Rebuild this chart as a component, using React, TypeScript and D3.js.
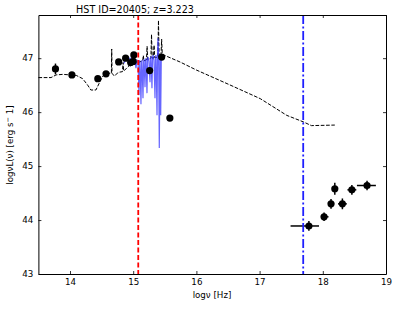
import React, { useEffect, useRef } from 'react';
import * as d3 from 'd3';

// photometry (log nu, log nuLnu, err)
const photNu = [13.77, 14.03, 14.44, 14.57, 14.77, 14.88, 14.96, 15.0, 15.01, 15.26, 15.45, 15.58];
const photL = [46.8, 46.69, 46.62, 46.71, 46.93, 47.0, 46.92, 46.94, 47.06, 46.77, 47.02, 45.89];
const photErr = [0.1, 0.03, 0.03, 0.03, 0.03, 0.03, 0.03, 0.03, 0.03, 0.03, 0.03, 0.03];

// x-ray points
const xrayNu = [17.78, 18.02, 18.13, 18.19, 18.31, 18.46, 18.7];
const xrayL = [43.89, 44.06, 44.3, 44.58, 44.3, 44.56, 44.64];
const xrayNuLo = [17.49, 17.97, 18.09, 18.16, 18.24, 18.39, 18.54];
const xrayNuHi = [17.94, 18.09, 18.18, 18.23, 18.38, 18.53, 18.84];
const xrayErr = [0.09, 0.08, 0.09, 0.11, 0.1, 0.09, 0.09];

// SED model (dashed)
const modelNu = [13.5, 13.7, 13.78, 13.89, 14.1, 14.2, 14.28, 14.33, 14.41, 14.46, 14.52, 14.6, 14.655, 14.66, 14.665,
  14.7, 14.75, 14.78, 14.83, 14.84, 14.85, 14.9, 14.93, 14.94, 14.95, 15.0, 15.05, 15.1, 15.15, 15.16, 15.17, 15.21,
  15.22, 15.23, 15.28, 15.29, 15.3, 15.32, 15.33, 15.34, 15.39, 15.4, 15.41, 15.44, 15.45, 15.46, 15.74, 16.0, 16.5,
  17.01, 17.2, 17.43, 17.69, 17.82, 18.19];
const modelL = [46.64, 46.64, 46.69, 46.7, 46.68, 46.62, 46.5, 46.41, 46.41, 46.53, 46.67, 46.72, 46.72, 47.17, 46.72,
  46.67, 46.72, 46.74, 46.75, 46.92, 46.76, 46.82, 46.85, 46.95, 46.85, 46.9, 46.92, 46.93, 46.95, 47.05, 46.95, 46.97,
  47.22, 46.97, 47.0, 47.44, 47.0, 47.0, 47.24, 47.01, 47.02, 47.7, 47.03, 47.04, 47.35, 47.07, 46.93, 46.78, 46.52,
  46.25, 46.11, 45.94, 45.82, 45.75, 45.76];

// spectrum (blue)
const specNu = [14.854, 14.886, 14.918, 14.949, 14.981, 15.013, 15.028, 15.044, 15.06, 15.076, 15.092, 15.101, 15.108,
  15.123, 15.133, 15.139, 15.155, 15.165, 15.171, 15.187, 15.196, 15.203, 15.218, 15.228, 15.234, 15.25, 15.266, 15.275,
  15.282, 15.297, 15.307, 15.313, 15.329, 15.345, 15.354, 15.361, 15.377, 15.386, 15.392, 15.402, 15.413, 15.424,
  15.435, 15.445, 15.456, 15.467];
const specL = [46.907, 46.981, 46.963, 47.0, 46.963, 47.0, 46.926, 46.815, 46.963, 46.944, 46.315, 46.963, 46.926,
  46.148, 46.926, 46.963, 46.259, 46.944, 46.981, 46.463, 46.963, 47.0, 46.352, 46.981, 47.019, 46.944, 46.556, 47.0,
  47.037, 46.444, 47.019, 47.056, 46.963, 46.259, 47.037, 47.056, 45.944, 47.148, 47.37, 47.056, 45.333, 47.0, 45.944,
  47.056, 47.019, 46.963];

const lymanNu = 15.08;
const xrayLimitNu = 17.69;

const nuTicks = [14, 15, 16, 17, 18, 19];
const lumTicks = [43, 44, 45, 46, 47];

const W = 399;
const H = 309;
const FONT = 'DejaVu Sans';

export default function App() {
  const svgRef = useRef<SVGSVGElement>(null);

  useEffect(() => {
    const svg = d3.select(svgRef.current).html('');
    const x = d3.scaleLinear().domain([13.5, 19]).range([38.4, 386]);
    const y = d3.scaleLinear().domain([43, 47.8]).range([274, 15]);

    const line = d3.line<[number, number]>().x(d => x(d[0])).y(d => y(d[1]));

    // model
    svg.append('path')
      .attr('d', line(modelNu.map((v, i) => [v, modelL[i]])))
      .attr('fill', 'none').attr('stroke', '#000').attr('stroke-width', 1)
      .attr('stroke-dasharray', '3.7,1.6');

    // spectrum
    svg.append('path')
      .attr('d', line(specNu.map((v, i) => [v, specL[i]])))
      .attr('fill', 'none').attr('stroke', '#3333ff').attr('stroke-opacity', 0.75)
      .attr('stroke-width', 1.2);

    // photometry
    photNu.forEach((v, i) => {
      svg.append('line')
        .attr('x1', x(v)).attr('x2', x(v))
        .attr('y1', y(photL[i] - photErr[i])).attr('y2', y(photL[i] + photErr[i]))
        .attr('stroke', '#000').attr('stroke-width', 1.5);
      svg.append('circle').attr('cx', x(v)).attr('cy', y(photL[i])).attr('r', 3.6).attr('fill', '#000');
    });

    // x-ray
    xrayNu.forEach((v, i) => {
      svg.append('line')
        .attr('x1', x(xrayNuLo[i])).attr('x2', x(xrayNuHi[i]))
        .attr('y1', y(xrayL[i])).attr('y2', y(xrayL[i]))
        .attr('stroke', '#000').attr('stroke-width', 1.5);
      svg.append('line')
        .attr('x1', x(v)).attr('x2', x(v))
        .attr('y1', y(xrayL[i] - xrayErr[i])).attr('y2', y(xrayL[i] + xrayErr[i]))
        .attr('stroke', '#000').attr('stroke-width', 1.5);
      svg.append('circle').attr('cx', x(v)).attr('cy', y(xrayL[i])).attr('r', 3.6).attr('fill', '#000');
    });

    // vertical markers
    svg.append('line')
      .attr('x1', x(lymanNu)).attr('x2', x(lymanNu)).attr('y1', y(47.8)).attr('y2', y(43))
      .attr('stroke', '#ff0000').attr('stroke-width', 1.8).attr('stroke-dasharray', '5,2.5');
    svg.append('line')
      .attr('x1', x(xrayLimitNu)).attr('x2', x(xrayLimitNu)).attr('y1', y(47.8)).attr('y2', y(43))
      .attr('stroke', '#1f1fff').attr('stroke-width', 1.8).attr('stroke-dasharray', '9,2.5,2,2.5');

    // axes
    const styleAxis = (g: any) => {
      g.selectAll('.domain').attr('stroke', '#000').attr('stroke-width', 1);
      g.selectAll('.tick line').attr('stroke', '#000').attr('stroke-width', 0.8);
      g.selectAll('text').attr('fill', '#000').style('font-family', FONT).style('font-size', '8.7px');
    };
    svg.append('g').attr('transform', 'translate(0,274)')
      .call(d3.axisBottom(x).tickValues(nuTicks).tickSizeInner(-3).tickSizeOuter(0).tickPadding(5).tickFormat(d3.format('d')))
      .call(styleAxis);
    svg.append('g').attr('transform', 'translate(0,15)')
      .call(d3.axisTop(x).tickValues(nuTicks).tickSizeInner(-3).tickSizeOuter(0).tickFormat(() => ''))
      .call(styleAxis);
    svg.append('g').attr('transform', 'translate(38.4,0)')
      .call(d3.axisLeft(y).tickValues(lumTicks).tickSizeInner(-3).tickSizeOuter(0).tickPadding(5).tickFormat(d3.format('d')))
      .call(styleAxis);
    svg.append('g').attr('transform', 'translate(386,0)')
      .call(d3.axisRight(y).tickValues(lumTicks).tickSizeInner(-3).tickSizeOuter(0).tickFormat(() => ''))
      .call(styleAxis);

    // labels
    svg.append('text')
      .attr('x', 135).attr('y', 12.5).attr('text-anchor', 'middle')
      .style('font-family', FONT).style('font-size', '9.6px').attr('fill', '#000')
      .text('HST ID=20405; z=3.223');

    svg.append('text')
      .attr('x', 212).attr('y', 298).attr('text-anchor', 'middle')
      .style('font-family', FONT).style('font-size', '8.7px').attr('fill', '#000')
      .text('logν [Hz]');

    const yl = svg.append('text')
      .attr('transform', 'translate(13,145) rotate(-90)').attr('text-anchor', 'middle')
      .style('font-family', FONT).style('font-size', '8.7px').attr('fill', '#000');
    yl.append('tspan').text('logνL(ν) [erg s');
    yl.append('tspan').attr('dy', -3).style('font-size', '6.5px').text('−');
    yl.append('tspan').attr('dy', 3).text(' 1]');
  }, []);

  return (
    <svg ref={svgRef} width={W} height={H}
      style={{ position: 'absolute', left: 0, top: 0, background: '#fff' }} />
  );
}
